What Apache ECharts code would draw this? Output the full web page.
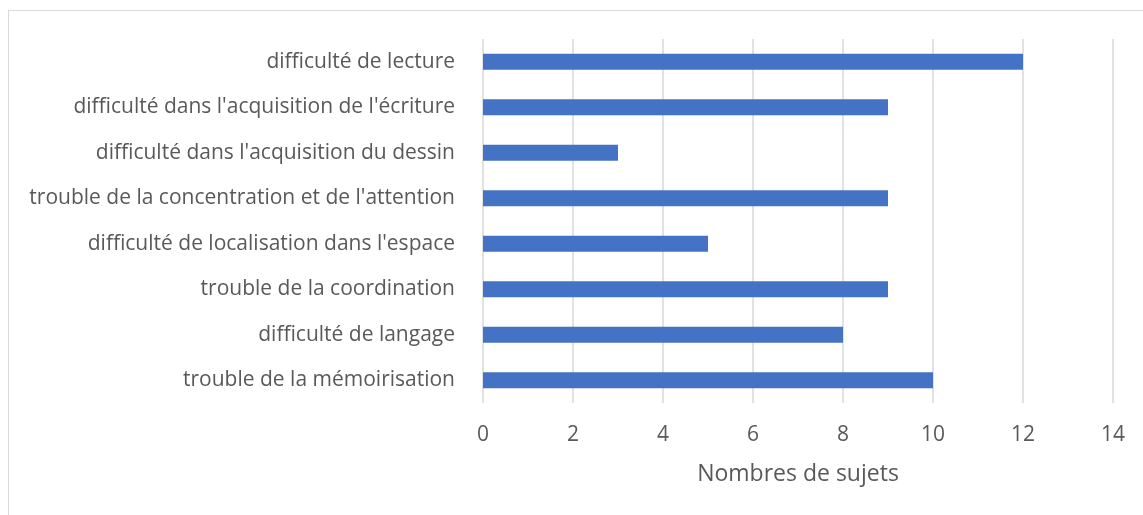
<!DOCTYPE html>
<html>
<head>
<meta charset="utf-8">
<script src="https://cdn.jsdelivr.net/npm/echarts@6/dist/echarts.min.js"></script>
<style>
  html, body { margin: 0; padding: 0; background: #fff; }
  #wrap { position: relative; width: 1143px; height: 515px; overflow: hidden; }
  #frame { position: absolute; left: 8px; top: 10px; width: 1200px; height: 600px; border: 1px solid #d9d9d9; box-sizing: border-box; }
  #chart { position: absolute; left: 0; top: 0; width: 1143px; height: 515px; }
</style>
</head>
<body>
<div id="wrap">
  <div id="frame"></div>
  <div id="chart"></div>
</div>
<script>
  // categories listed bottom to top (category axis starts at the bottom)
  const categories = [
    'trouble de la mémoirisation',
    'difficulté de langage',
    'trouble de la coordination',
    'difficulté de localisation dans l\'espace',
    'trouble de la concentration et de l\'attention',
    'difficulté dans l\'acquisition du dessin',
    'difficulté dans l\'acquisition de l\'écriture',
    'difficulté de lecture',
  ];
  const values = [10, 8, 9, 5, 9, 3, 9, 12];
  const xTicks = [0, 2, 4, 6, 8, 10, 12, 14];
  const xName = 'Nombres de sujets';

  const textColor = '#595959';
  const font = '"Open Sans", sans-serif';

  const chart = echarts.init(document.getElementById('chart'), null, { renderer: 'canvas' });

  chart.setOption({
    animation: false,
    grid: { left: 483, right: 30, top: 39, bottom: 112, containLabel: false },
    xAxis: {
      type: 'value',
      min: xTicks[0],
      max: xTicks[xTicks.length - 1],
      interval: xTicks[1] - xTicks[0],
      name: xName,
      nameLocation: 'middle',
      nameGap: 60,
      nameTextStyle: { color: textColor, fontSize: 23, fontFamily: font },
      axisLine: { show: false },
      axisTick: { show: false },
      axisLabel: { color: textColor, fontSize: 21, fontFamily: font, margin: 22 },
      splitLine: { lineStyle: { color: '#d9d9d9', width: 1.5 } },
    },
    yAxis: {
      type: 'category',
      data: categories,
      axisLine: { show: false },
      axisTick: { show: false },
      axisLabel: { color: textColor, fontSize: 21, fontFamily: font, margin: 28 },
      splitLine: { show: false },
    },
    series: [
      {
        type: 'bar',
        data: values,
        barWidth: 16,
        itemStyle: { color: '#4472C4' },
      },
    ],
  });
</script>
</body>
</html>
